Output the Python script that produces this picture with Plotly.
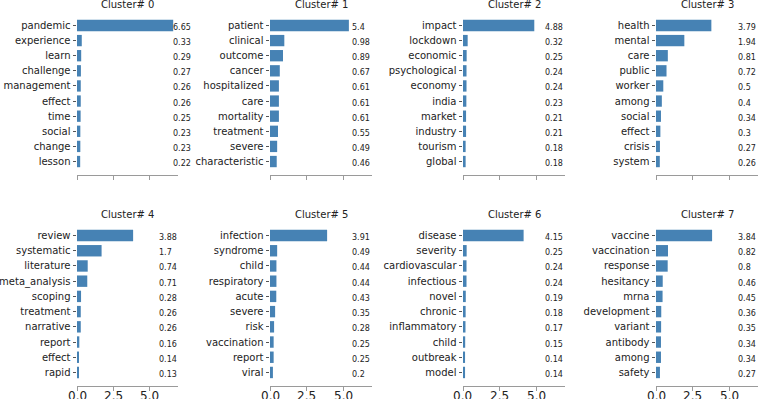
import plotly.graph_objects as go

clusters = ["Cluster# 0", "Cluster# 1", "Cluster# 2", "Cluster# 3",
            "Cluster# 4", "Cluster# 5", "Cluster# 6", "Cluster# 7"]

words_0 = ["pandemic", "experience", "learn", "challenge", "management", "effect", "time", "social", "change", "lesson"]
vals_0 = [6.65, 0.33, 0.29, 0.27, 0.26, 0.26, 0.25, 0.23, 0.23, 0.22]
words_1 = ["patient", "clinical", "outcome", "cancer", "hospitalized", "care", "mortality", "treatment", "severe", "characteristic"]
vals_1 = [5.4, 0.98, 0.89, 0.67, 0.61, 0.61, 0.61, 0.55, 0.49, 0.46]
words_2 = ["impact", "lockdown", "economic", "psychological", "economy", "india", "market", "industry", "tourism", "global"]
vals_2 = [4.88, 0.32, 0.25, 0.24, 0.24, 0.23, 0.21, 0.21, 0.18, 0.18]
words_3 = ["health", "mental", "care", "public", "worker", "among", "social", "effect", "crisis", "system"]
vals_3 = [3.79, 1.94, 0.81, 0.72, 0.5, 0.4, 0.34, 0.3, 0.27, 0.26]
words_4 = ["review", "systematic", "literature", "meta_analysis", "scoping", "treatment", "narrative", "report", "effect", "rapid"]
vals_4 = [3.88, 1.7, 0.74, 0.71, 0.28, 0.26, 0.26, 0.16, 0.14, 0.13]
words_5 = ["infection", "syndrome", "child", "respiratory", "acute", "severe", "risk", "vaccination", "report", "viral"]
vals_5 = [3.91, 0.49, 0.44, 0.44, 0.43, 0.35, 0.28, 0.25, 0.25, 0.2]
words_6 = ["disease", "severity", "cardiovascular", "infectious", "novel", "chronic", "inflammatory", "child", "outbreak", "model"]
vals_6 = [4.15, 0.25, 0.24, 0.24, 0.19, 0.18, 0.17, 0.15, 0.14, 0.14]
words_7 = ["vaccine", "vaccination", "response", "hesitancy", "mrna", "development", "variant", "antibody", "among", "safety"]
vals_7 = [3.84, 0.82, 0.8, 0.46, 0.45, 0.36, 0.35, 0.34, 0.34, 0.27]

x_ticks = [0.0, 2.5, 5.0]
x_tick_labels = ["0.0", "2.5", "5.0"]

all_words = [words_0, words_1, words_2, words_3, words_4, words_5, words_6, words_7]
all_vals = [vals_0, vals_1, vals_2, vals_3, vals_4, vals_5, vals_6, vals_7]

W, H = 760, 399
col_px = [(77, 178), (270, 372), (463, 565), (656, 758)]
row_px = [(12, 175), (222, 386)]
xmax = max(max(v) for v in all_vals) * 1.05

BAR = "#4682b4"
TXT = "#222222"
SPINE = "#9a9a9a"
FONT = "DejaVu Sans"

fig = go.Figure()
annotations = []
layout = {}
for i in range(8):
    r, c = divmod(i, 4)
    n = "" if i == 0 else str(i + 1)
    xa, ya = "x" + n, "y" + n
    words, vals = all_words[i], all_vals[i]
    fig.add_trace(go.Bar(
        x=vals, y=words, orientation="h", width=0.75,
        marker=dict(color=BAR, line=dict(width=0)),
        xaxis=xa, yaxis=ya, showlegend=False, hoverinfo="x+y",
    ))
    x0, x1 = col_px[c]
    t0, t1 = row_px[r]
    layout["xaxis" + n] = dict(
        domain=[x0 / W, x1 / W], anchor=ya, range=[0, xmax], automargin=False,
        tickvals=x_ticks, showticklabels=False,
        ticks="outside", ticklen=3.5, tickcolor=SPINE, tickwidth=1,
        showline=True, linecolor=SPINE, linewidth=1, showgrid=False, zeroline=False,
    )
    layout["yaxis" + n] = dict(
        domain=[1 - t1 / H, 1 - t0 / H], anchor=xa, automargin=False,
        type="category", categoryorder="array", categoryarray=words,
        range=[9.89, -0.89],
        ticks="outside", ticklen=3.5, tickcolor="#555555", tickwidth=1,
        showline=False, showgrid=False, zeroline=False,
        tickfont=dict(family=FONT, size=10, color=TXT),
    )
    annotations.append(dict(
        text=clusters[i], xref="x" + n + " domain", yref="y" + n + " domain",
        x=0.5, y=1, xanchor="center", yanchor="bottom", showarrow=False,
        font=dict(family=FONT, size=10, color=TXT),
    ))
    label_x = max(5.5, round(max(vals) - 0.15, 1))
    for w, v in zip(words, vals):
        annotations.append(dict(
            text=f"{v:g}", xref=xa, yref=ya, x=label_x, y=w,
            xanchor="left", yanchor="middle", yshift=-2, showarrow=False,
            font=dict(family=FONT, size=8, color=TXT),
        ))
    if r == 1:
        # x tick labels (shared x axis: only bottom row shows them)
        for tv, tl in zip(x_ticks, x_tick_labels):
            annotations.append(dict(
                text=tl, xref=xa, yref="paper", x=tv, y=1 - t1 / H,
                xanchor="center", yanchor="top", yshift=-1, showarrow=False,
                font=dict(family=FONT, size=12, color=TXT),
            ))

fig.update_layout(
    width=W, height=H, margin=dict(l=0, r=0, t=0, b=0, autoexpand=False),
    paper_bgcolor="white", plot_bgcolor="white",
    annotations=annotations, bargap=0.25,
    font=dict(family=FONT, color=TXT),
    **layout,
)
fig.write_html("out.html")
